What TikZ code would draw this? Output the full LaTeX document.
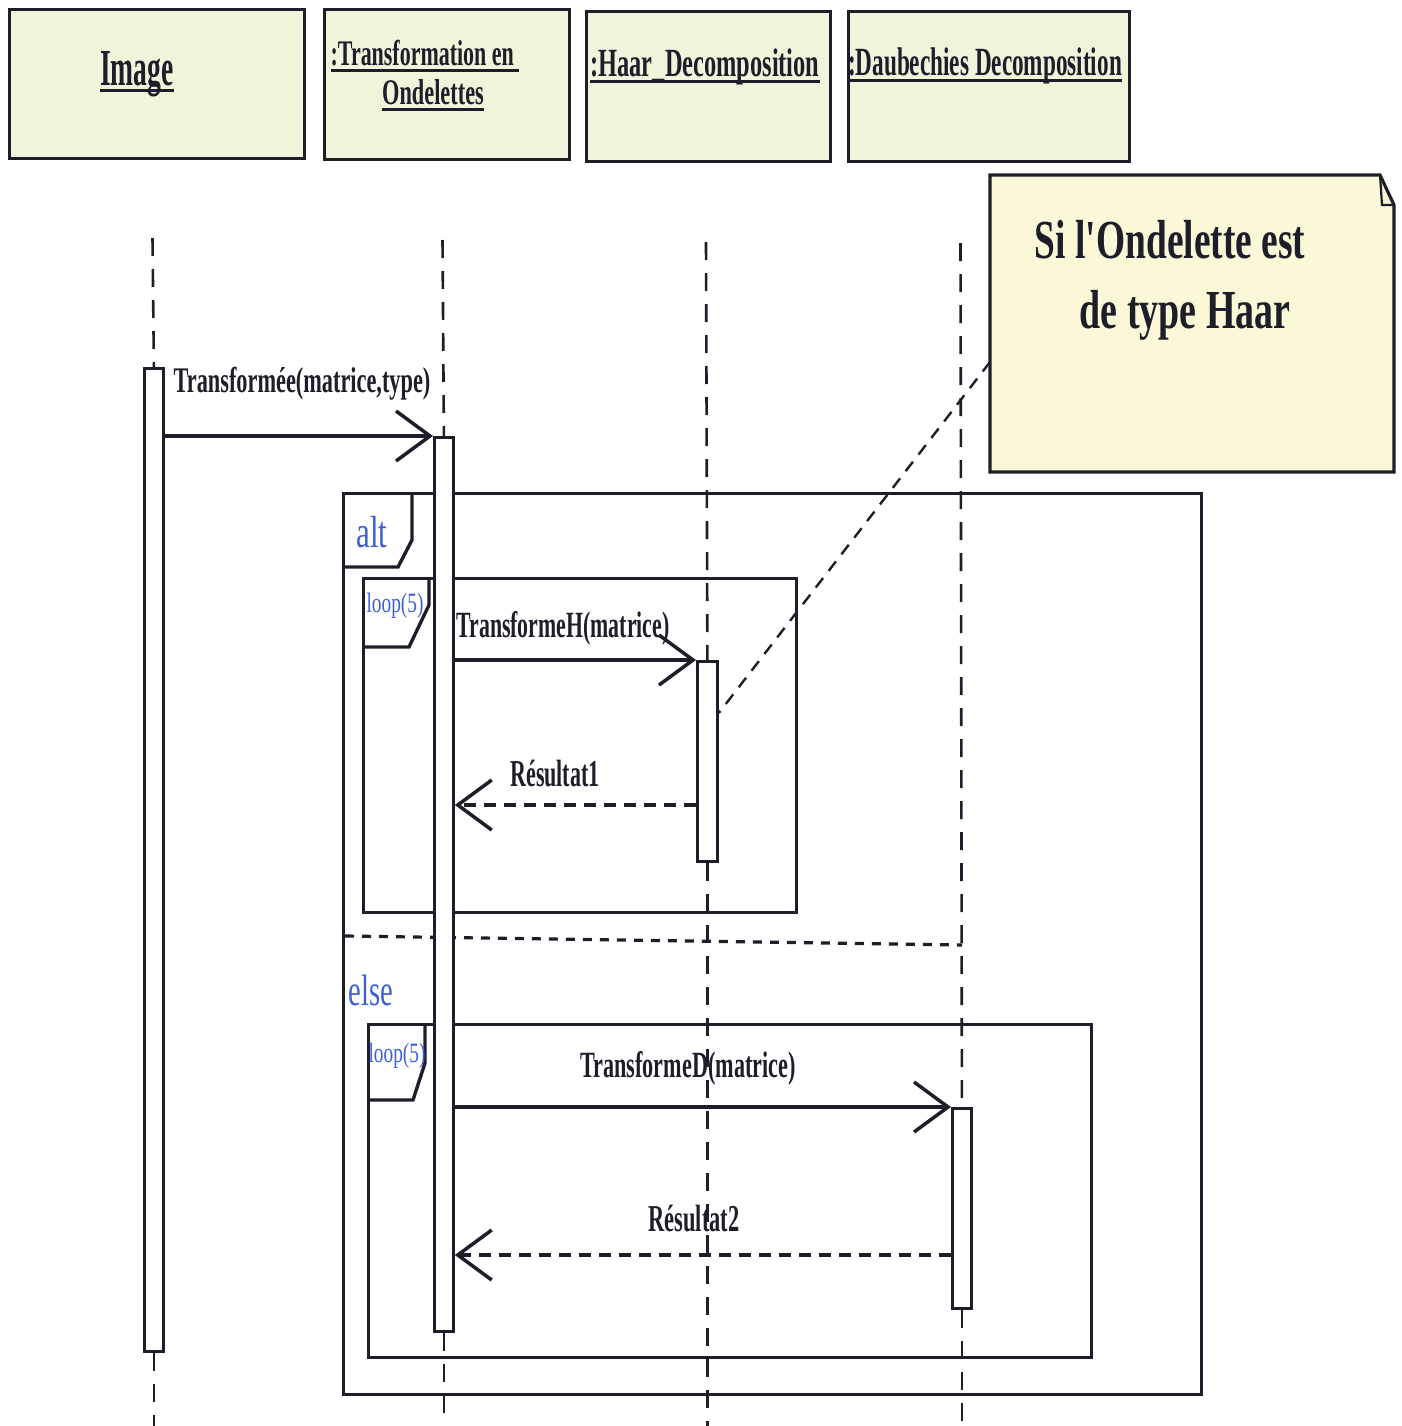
\documentclass[tikz,border=0pt]{standalone}
\usepackage{graphicx}
\usepackage{fontspec}
\setmainfont{Liberation Serif}
\usetikzlibrary{arrows.meta}

\definecolor{hdrfill}{HTML}{EEF5DA}
\definecolor{notefill}{HTML}{FAF8D6}
\definecolor{ink}{HTML}{1E1E2A}
\definecolor{fragblue}{HTML}{3D5FD6}

% underlined text with a rule of fixed thickness
\newsavebox\ulbx
\newcommand\ulword[2][3pt]{\sbox\ulbx{#2}\rlap{\rule[-6pt]{\wd\ulbx}{#1}}\usebox\ulbx}
% condensed text: horizontal factor, size, text
\newcommand\condtext[3]{\scalebox{#1}[1]{\fontsize{#2pt}{#2pt}\selectfont #3}}

\begin{document}
\begin{tikzpicture}[x=1pt,y=-1pt,line join=miter,
  hdr/.style={draw=ink,line width=3.2pt,fill=hdrfill,anchor=north west,inner sep=0pt},
  act/.style={draw=ink,line width=2.8pt,fill=white,anchor=north west,inner sep=0pt,minimum width=19pt},
  life/.style={draw=ink,line width=2.6pt,dash pattern=on 18pt off 13pt},
  msg/.style={draw=ink,line width=3.5pt,-{Straight Barb[length=34pt,width=50pt]}},
  reply/.style={msg,dash pattern=on 12pt off 8pt},
  frag/.style={draw=ink,line width=3.4pt,anchor=north west,inner sep=0pt},
  tab/.style={draw=ink,line width=3.4pt},
  lbl/.style={inner sep=0pt,anchor=base,text=ink,font=\bfseries},
  flbl/.style={inner sep=0pt,anchor=base,text=fragblue},
  notelink/.style={draw=ink,line width=2.4pt,dash pattern=on 12pt off 9pt},
  elseline/.style={draw=ink,line width=3.2pt,dash pattern=on 9pt off 8pt}]

\useasboundingbox (0,0) rectangle (1401,1426);

% object heads
\node[hdr,minimum width=295pt,minimum height=149pt] (hImg) at (8,8) {};
\node[hdr,minimum width=245pt,minimum height=150pt] (hTr) at (323,8) {};
\node[hdr,minimum width=244pt,minimum height=150pt] (hHaar) at (585,10) {};
\node[hdr,minimum width=281pt,minimum height=150pt] (hDau) at (847,10) {};

\node[lbl] (tImg) at (137,86) {\condtext{0.53}{52}{\ulword{Image}}};
\node[lbl] (tTr1) at (425,66) {\condtext{0.61}{36}{\ulword{:Transformation en\ }}};
\node[lbl] (tTr2) at (433,105) {\condtext{0.62}{36}{\ulword{Ondelettes}}};
\node[lbl] (tHaar) at (705,77) {\condtext{0.61}{40}{\ulword{:Haar\_Decomposition}}};
\node[lbl] (tDau) at (985,76) {\condtext{0.58}{40}{\ulword{:Daubechies Decomposition}}};

% activation bars
\node[act,minimum height=983pt] (actImg) at (143,367) {};
\node[act,minimum height=894pt] (actTr) at (433,436) {};
\node[act,minimum height=200pt,minimum width=20pt] (actH) at (696,660) {};
\node[act,minimum height=200pt] (actD) at (951,1107) {};

% lifelines
\coordinate (topImg) at (152.5,238);
\coordinate (topTr) at (442.5,240);
\coordinate (topH) at (706,242);
\coordinate (topD) at (960.5,243);
\coordinate (bot) at (0,1426);
\draw[life] (topImg) -- (actImg.north);
\draw[life] (actImg.south) -- (actImg.south |- bot);
\draw[life] (topTr) -- (actTr.north);
\draw[life] (actTr.south) -- (actTr.south |- bot);
\draw[life] (topH) -- (actH.north);
\draw[life] (actH.south) -- (actH.south |- bot);
\draw[life] (topD) -- (actD.north);
\draw[life] (actD.south) -- (actD.south |- bot);

% redraw bars over their lifelines
\node[act,minimum height=983pt] at (143,367) {};

% combined fragments
\node[frag,minimum width=858pt,minimum height=901pt] (alt) at (342,492) {};
\draw[tab] (alt.north west) ++(70,0) -- ++(0,48) -- ++(-14,27) -- ++(-56,0);
\node[flbl] (tAlt) at (372,547) {\condtext{0.69}{45}{alt}};

\node[frag,minimum width=433pt,minimum height=334pt] (loopA) at (362,577) {};
\draw[tab] (loopA.north west) ++(67,0) -- ++(0,28) -- ++(-20,42) -- ++(-47,0);
\node[flbl] (tLoopA) at (395,612) {\condtext{0.69}{28}{loop(5)}};

\coordinate (eL) at (345,936);
\coordinate (eR) at (962,945);
\draw[elseline] (eL) -- (eR);
\node[flbl] (tElse) at (371,1005) {\condtext{0.65}{44}{else}};

\node[frag,minimum width=723pt,minimum height=333pt] (loopB) at (367,1023) {};
\draw[tab] (loopB.north west) ++(58,0) -- ++(0,40) -- ++(-12,37) -- ++(-46,0);
\node[flbl] (tLoopB) at (397,1062) {\condtext{0.69}{28}{loop(5)}};

% bars inside the fragments stay on top
\node[act,minimum height=894pt] at (433,436) {};
\node[act,minimum height=200pt,minimum width=20pt] at (696,660) {};
\node[act,minimum height=200pt] at (951,1107) {};

% messages
\coordinate (yR1) at (0,805);
\coordinate (yR2) at (0,1255);
\draw[msg] (actImg.east |- actTr.north) -- (actTr.north west);
\node[lbl] (tM1) at (302,392) {\condtext{0.62}{36}{Transformée(matrice,type)}};

\draw[msg] (actTr.east |- actH.north) -- (actH.north west);
\node[lbl] (tM2) at (563,637) {\condtext{0.59}{37}{TransformeH(matrice)}};

\draw[reply] (actH.west |- yR1) -- (actTr.east |- yR1);
\node[lbl] (tR1) at (555,786) {\condtext{0.58}{38}{Résultat1}};

\draw[msg] (actTr.east |- actD.north) -- (actD.north west);
\node[lbl] (tM3) at (688,1077) {\condtext{0.6}{37}{TransformeD(matrice)}};

\draw[reply] (actD.west |- yR2) -- (actTr.east |- yR2);
\node[lbl] (tR2) at (694,1231) {\condtext{0.59}{38}{Résultat2}};

% note attached to the Haar activation
\draw[draw=ink,line width=3.2pt,fill=notefill] (990,175) -- (1380,175) -- (1394,205) -- (1394,472) -- (990,472) -- cycle;
\draw[draw=ink,line width=2.2pt] (1380,175) -- (1382,205) -- (1394,205);
\node[lbl] (tN1) at (1170,258) {\condtext{0.68}{55}{Si l\textquotesingle Ondelette est}};
\node[lbl] (tN2) at (1185,328) {\condtext{0.69}{55}{de type Haar}};
\coordinate (noteL) at (990,362);
\draw[notelink] (noteL) -- ([yshift=-53pt]actH.north east);

\end{tikzpicture}
\end{document}
